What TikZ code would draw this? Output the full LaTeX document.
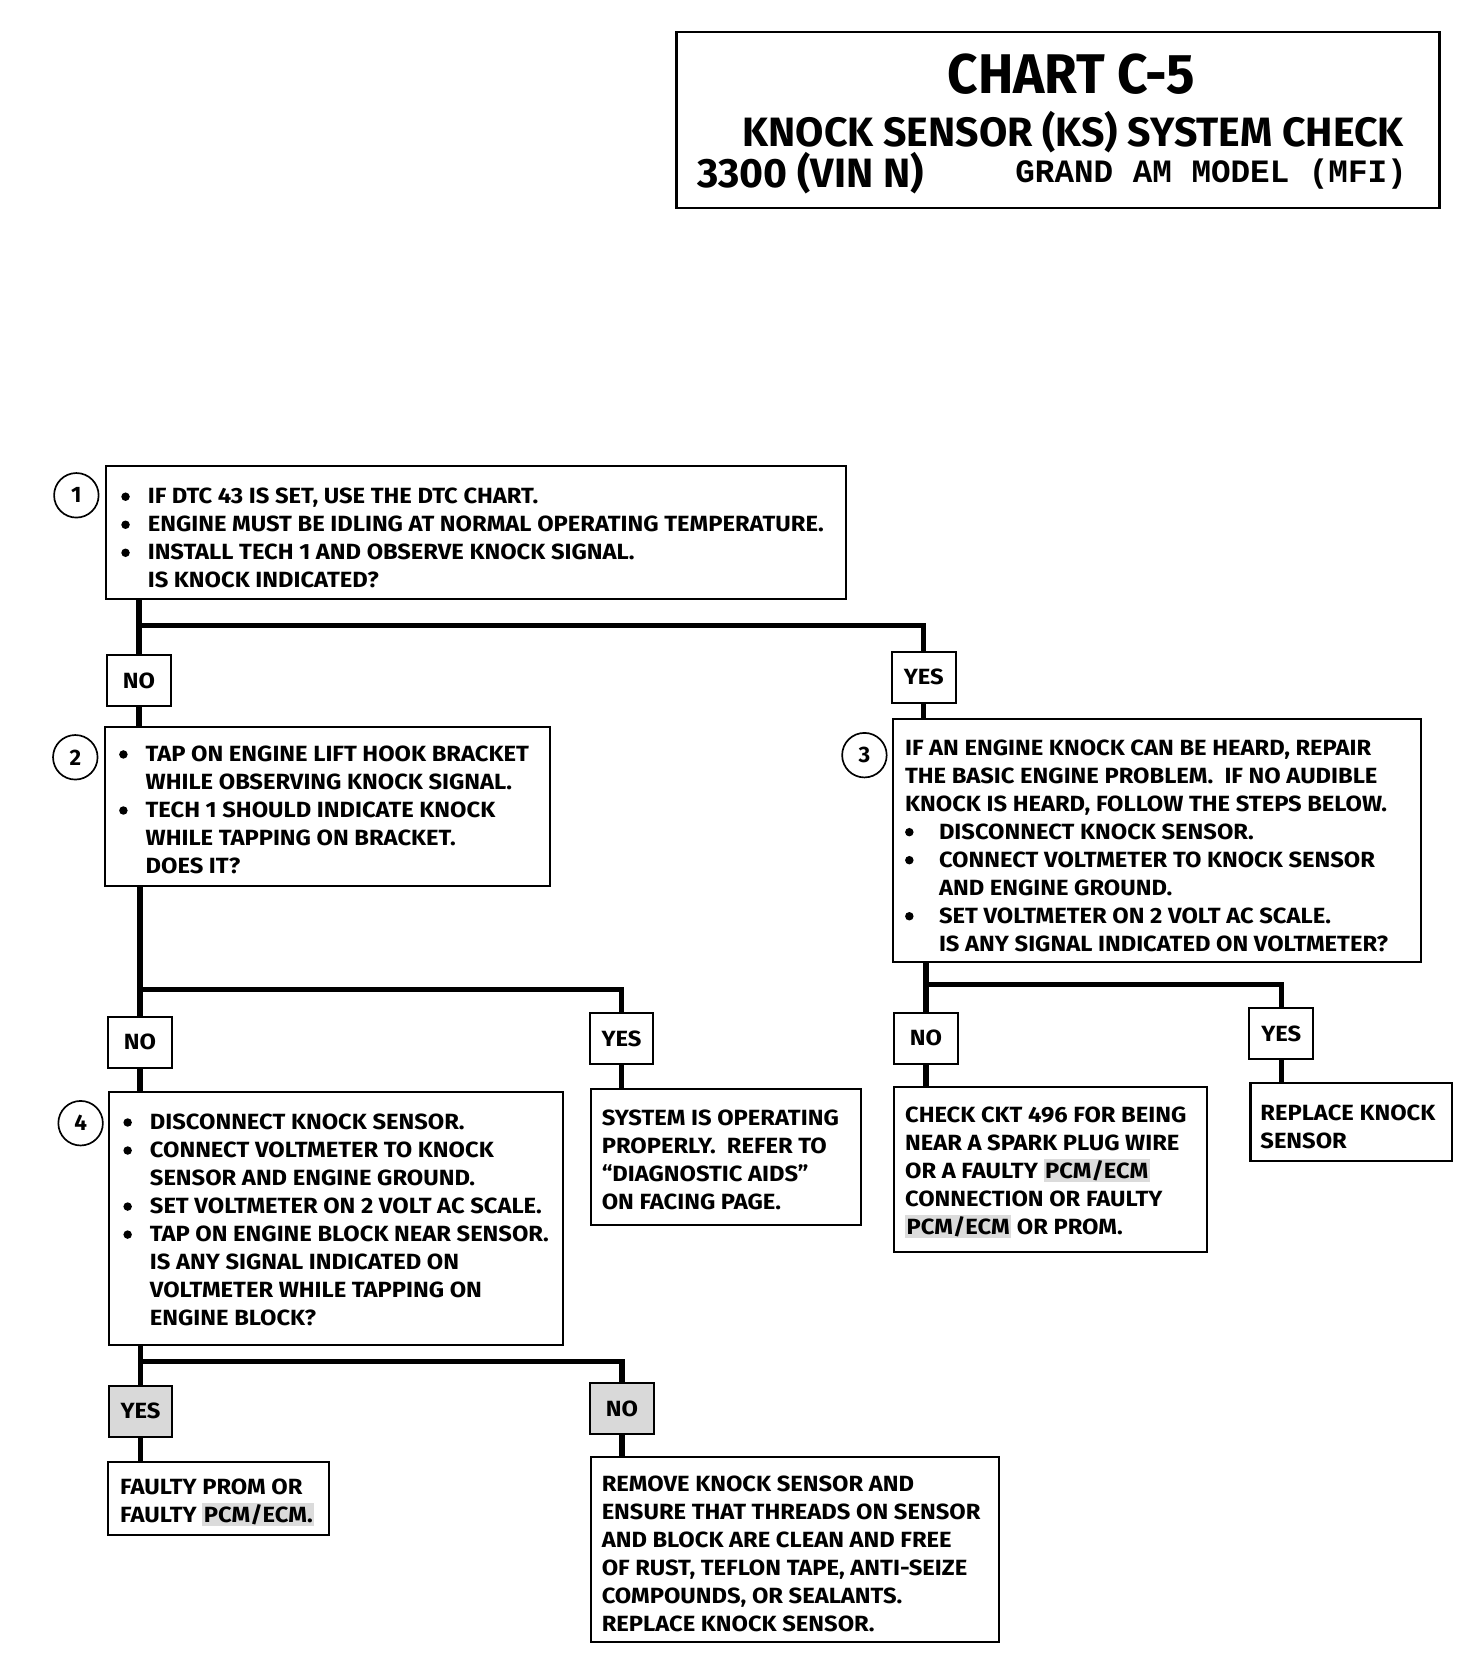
\documentclass[tikz,border=0pt]{standalone}
\usepackage{fontspec}
\setmainfont{Fira Sans}
\newfontfamily\ttlfont[FakeStretch=0.95]{Fira Sans}
\newfontfamily\bodyfont[FakeStretch=1.08]{Fira Sans}
\newfontfamily\monofnt{Liberation Mono}
\usetikzlibrary{fit}
\newcommand{\bul}[1]{\makebox[#1][l]{\raisebox{0.055cm}{\tikz\fill (0,0) circle (0.08cm);}}}
\newcommand{\hlt}[1]{{\setlength{\fboxsep}{0.8pt}\colorbox{gray!28}{#1}}}
\begin{document}
\begin{tikzpicture}[x=0.02cm, y=-0.02cm,
  box/.style={draw, line width=1.1pt, inner sep=0pt},
  lab/.style={draw, line width=1.1pt, minimum width=1.2cm, minimum height=0.96cm, inner sep=0pt, font=\bodyfont\fontsize{11.8}{14}\selectfont\bfseries},
  shlab/.style={lab, fill=gray!30},
  num/.style={draw, circle, line width=0.9pt, minimum size=0.84cm, inner sep=0pt, font=\fontsize{12}{14}\selectfont\bfseries},
  txt/.style={anchor=north west, inner sep=0pt, align=left, font=\bodyfont\fontsize{11.8}{15.04}\selectfont\bfseries},
  conn/.style={line width=2.8pt}]
\useasboundingbox (0,0) rectangle (1388,1567);
\fill[white] (0,0) rectangle (1388,1567);

% title
\node[box, line width=1.3pt, fit={(638,30)(1357,196)}] (title) {};
\node[anchor=base, inner sep=0pt, font=\ttlfont\bfseries\fontsize{30}{34}\selectfont] (t1) at (1010,88) {CHART C-5};
\node[anchor=base west, inner sep=0pt, font=\bfseries\fontsize{22}{26}\selectfont] (t2) at (700,138) {KNOCK SENSOR (KS) SYSTEM CHECK};
\node[anchor=base west, inner sep=0pt, font=\bfseries\fontsize{22}{26}\selectfont] (t3) at (657,177) {3300 (VIN N)};
\node[anchor=base west, inner sep=0pt, font=\monofnt\bfseries\fontsize{17.5}{20}\selectfont] (t4) at (957,172) {GRAND AM MODEL (MFI)};

% boxes
\node[box, fit={(100,439)(798,565)}] (b1) {};
\node[txt] (b1t) at (114,460) {\bul{0.5cm}IF DTC 43 IS SET, USE THE DTC CHART.\\
\bul{0.5cm}ENGINE MUST BE IDLING AT NORMAL OPERATING TEMPERATURE.\\
\bul{0.5cm}INSTALL TECH 1 AND OBSERVE KNOCK SIGNAL.\\
\hspace*{0.5cm}IS KNOCK INDICATED?};
\node[num] (c1) at (72,467) {1};

\node[box, fit={(99,685)(519,835)}] (b2) {};
\node[txt] (b2t) at (112,703) {\bul{0.5cm}TAP ON ENGINE LIFT HOOK BRACKET\\
\hspace*{0.5cm}WHILE OBSERVING KNOCK SIGNAL.\\
\bul{0.5cm}TECH 1 SHOULD INDICATE KNOCK\\
\hspace*{0.5cm}WHILE TAPPING ON BRACKET.\\
\hspace*{0.5cm}DOES IT?};
\node[num] (c2) at (71,714) {2};

\node[box, fit={(842,678)(1340,907)}] (b3) {};
\node[txt] (b3t) at (853,697) {IF AN ENGINE KNOCK CAN BE HEARD, REPAIR\\
THE BASIC ENGINE PROBLEM.\ \ IF NO AUDIBLE\\
KNOCK IS HEARD, FOLLOW THE STEPS BELOW.\\
\bul{0.64cm}DISCONNECT KNOCK SENSOR.\\
\bul{0.64cm}CONNECT VOLTMETER TO KNOCK SENSOR\\
\hspace*{0.64cm}AND ENGINE GROUND.\\
\bul{0.64cm}SET VOLTMETER ON 2 VOLT AC SCALE.\\
\hspace*{0.64cm}IS ANY SIGNAL INDICATED ON VOLTMETER?};
\node[num] (c3) at (815,712) {3};

\node[box, fit={(103,1030)(531,1268)}] (b4) {};
\node[txt] (b4t) at (116,1050) {\bul{0.5cm}DISCONNECT KNOCK SENSOR.\\
\bul{0.5cm}CONNECT VOLTMETER TO KNOCK\\
\hspace*{0.5cm}SENSOR AND ENGINE GROUND.\\
\bul{0.5cm}SET VOLTMETER ON 2 VOLT AC SCALE.\\
\bul{0.5cm}TAP ON ENGINE BLOCK NEAR SENSOR.\\
\hspace*{0.5cm}IS ANY SIGNAL INDICATED ON\\
\hspace*{0.5cm}VOLTMETER WHILE TAPPING ON\\
\hspace*{0.5cm}ENGINE BLOCK?};
\node[num] (c4) at (76,1059) {4};

\node[box, fit={(557,1027)(812,1155)}] (b5) {};
\node[txt] (b5t) at (567,1046) {SYSTEM IS OPERATING\\
PROPERLY.\ \ REFER TO\\
“DIAGNOSTIC AIDS”\\
ON FACING PAGE.};

\node[box, fit={(843,1025)(1138,1180)}] (b6) {};
\node[txt] (b6t) at (853,1043) {CHECK CKT 496 FOR BEING\\
NEAR A SPARK PLUG WIRE\\
OR A FAULTY \hlt{PCM/ECM}\\
CONNECTION OR FAULTY\\
\hlt{PCM/ECM} OR PROM.};

\node[box, fit={(1179,1021)(1369,1095)}] (b7) {};
\node[txt] (b7t) at (1188,1041) {REPLACE KNOCK\\
SENSOR};

\node[box, fit={(102,1378)(310,1447)}] (b8) {};
\node[txt] (b8t) at (113,1394) {FAULTY PROM OR\\
FAULTY \hlt{PCM/ECM.}};

\node[box, fit={(557,1374)(942,1548)}] (b9) {};
\node[txt] (b9t) at (567,1391) {REMOVE KNOCK SENSOR AND\\
ENSURE THAT THREADS ON SENSOR\\
AND BLOCK ARE CLEAN AND FREE\\
OF RUST, TEFLON TAPE, ANTI-SEIZE\\
COMPOUNDS, OR SEALANTS.\\
REPLACE KNOCK SENSOR.};

% yes / no labels
\node[lab] (no1) at (131,641.5) {NO};
\node[lab] (yes1) at (871,638.5) {YES};
\node[lab] (no2) at (132,982.5) {NO};
\node[lab] (yes2) at (586,979.5) {YES};
\node[lab] (no3) at (873,979) {NO};
\node[lab] (yes3) at (1208,974.5) {YES};
\node[shlab] (yes4) at (132.5,1330.5) {YES};
\node[shlab] (no4) at (586.5,1328) {NO};

% connectors
\coordinate (j1) at (131,590);
\coordinate (j2) at (132,933);
\coordinate (j3) at (873,928);
\coordinate (j4) at (132.5,1284);
\draw[conn] (no1.north |- b1.south) -- (no1.north);
\draw[conn] (j1) -| (yes1.north);
\draw[conn] (no1.south) -- (no1.south |- b2.north);
\draw[conn] (yes1.south) -- (yes1.south |- b3.north);

\draw[conn] (no2.north |- b2.south) -- (no2.north);
\draw[conn] (j2) -| (yes2.north);
\draw[conn] (no2.south) -- (no2.south |- b4.north);
\draw[conn] (yes2.south) -- (yes2.south |- b5.north);

\draw[conn] (no3.north |- b3.south) -- (no3.north);
\draw[conn] (j3) -| (yes3.north);
\draw[conn] (no3.south) -- (no3.south |- b6.north);
\draw[conn] (yes3.south) -- (yes3.south |- b7.north);

\draw[conn] (yes4.north |- b4.south) -- (yes4.north);
\draw[conn] (j4) -| (no4.north);
\draw[conn] (yes4.south) -- (yes4.south |- b8.north);
\draw[conn] (no4.south) -- (no4.south |- b9.north);
\end{tikzpicture}
\end{document}
